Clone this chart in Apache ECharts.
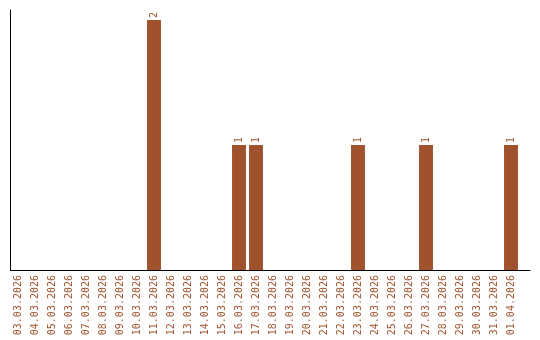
<!DOCTYPE html>
<html>
<head>
<meta charset="utf-8">
<script src="https://cdn.jsdelivr.net/npm/echarts@6/dist/echarts.min.js"></script>
<style>html,body{margin:0;padding:0;background:#fff;}#c{width:540px;height:340px;}</style>
</head>
<body>
<div id="c"></div>
<script>
const categories = ["03.03.2026","04.03.2026","05.03.2026","06.03.2026","07.03.2026","08.03.2026","09.03.2026","10.03.2026","11.03.2026","12.03.2026","13.03.2026","14.03.2026","15.03.2026","16.03.2026","17.03.2026","18.03.2026","19.03.2026","20.03.2026","21.03.2026","22.03.2026","23.03.2026","24.03.2026","25.03.2026","26.03.2026","27.03.2026","28.03.2026","29.03.2026","30.03.2026","31.03.2026","01.04.2026"];
const counts = [0,0,0,0,0,0,0,0,2,0,0,0,0,1,1,0,0,0,0,0,1,0,0,0,1,0,0,0,0,1];
const color = "#a0522d";
const font = "DejaVu Sans Mono";
const chart = echarts.init(document.getElementById('c'), null, {renderer:'canvas'});
chart.setOption({
  animation: false,
  grid: [
    {left: 9.5, right: 20.5, top: 10, bottom: 70, containLabel: false},
    {left: 10.5, right: 10, top: 10, bottom: 70, containLabel: false}
  ],
  xAxis: [{
    type: 'category', data: categories, gridIndex: 0,
    axisLine: {show: false},
    axisTick: {show: false},
    axisLabel: {rotate: 90, interval: 0, color: color, fontFamily: font, fontSize: 10, margin: 5}
  }, {
    type: 'value', gridIndex: 1, min: 0, max: 1,
    axisLine: {show: true, onZero: false, lineStyle: {color: '#000', width: 1}},
    axisTick: {show: false}, axisLabel: {show: false}, splitLine: {show: false}
  }],
  yAxis: [{
    type: 'value', min: 0, max: 2.08, gridIndex: 0,
    axisLine: {show: false},
    axisTick: {show: false}, axisLabel: {show: false}, splitLine: {show: false}
  }, {
    type: 'value', min: 0, max: 1, gridIndex: 1,
    axisLine: {show: true, onZero: false, lineStyle: {color: '#000', width: 1}},
    axisTick: {show: false}, axisLabel: {show: false}, splitLine: {show: false}
  }],
  series: [{
    type: 'bar', data: counts, barCategoryGap: '18%', xAxisIndex: 0, yAxisIndex: 0,
    itemStyle: {color: color},
    label: {
      show: true, position: 'top', rotate: 90, align: 'left', verticalAlign: 'middle', distance: 2,
      color: color, fontFamily: font, fontSize: 10,
      formatter: p => p.value > 0 ? String(p.value) : ''
    }
  }]
});
</script>
</body>
</html>
